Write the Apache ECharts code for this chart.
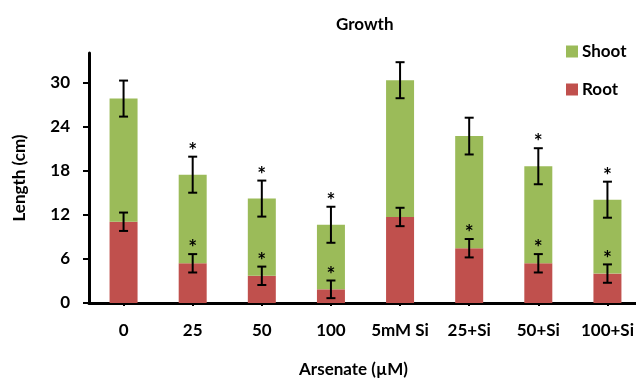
<!DOCTYPE html>
<html><head><meta charset="utf-8">
<script src="https://cdn.jsdelivr.net/npm/echarts@6/dist/echarts.min.js"></script>
<style>html,body{margin:0;padding:0;background:#fff}#c{width:636px;height:379px}</style>
</head><body><div id="c"></div>
<script>
const categories = ['0','25','50','100','5mM Si','25+Si','50+Si','100+Si'];
const rootValues = [11.05, 5.4, 3.7, 1.86, 11.7, 7.45, 5.4, 4.0];
const shootValues = [16.75, 12.05, 10.5, 8.78, 18.6, 15.25, 13.2, 10.05];
const rootErrors = [1.25, 1.25, 1.25, 1.2, 1.25, 1.25, 1.25, 1.25];
const shootErrors = [2.45, 2.45, 2.45, 2.45, 2.45, 2.5, 2.45, 2.45];
const rootStars = [false, true, true, true, false, true, true, true];
const shootStars = [false, true, true, true, false, false, true, true];
const yTicks = [0, 6, 12, 18, 24, 30];

const FONT = 'Lato';
const errData = [];
categories.forEach((c, i) => {
  errData.push([i, rootValues[i], rootErrors[i], rootStars[i] ? 1 : 0]);
  errData.push([i, rootValues[i] + shootValues[i], shootErrors[i], shootStars[i] ? 1 : 0]);
});

function renderErr(params, api) {
  const i = api.value(0), v = api.value(1), e = api.value(2), s = api.value(3);
  const top = api.coord([i, v + e]);
  const bot = api.coord([i, v - e]);
  const x = top[0], cw = 4.5;
  const children = [
    {type: 'line', shape: {x1: x, y1: top[1], x2: x, y2: bot[1]}, style: {stroke: '#000', lineWidth: 2}},
    {type: 'line', shape: {x1: x - cw, y1: top[1], x2: x + cw, y2: top[1]}, style: {stroke: '#000', lineWidth: 2}},
    {type: 'line', shape: {x1: x - cw, y1: bot[1], x2: x + cw, y2: bot[1]}, style: {stroke: '#000', lineWidth: 2}}
  ];
  if (s) {
    children.push({type: 'text', x: x, y: top[1] + 5, style: {text: '*', font: 'bold 21px ' + FONT, fill: '#000', align: 'center', verticalAlign: 'bottom'}});
  }
  return {type: 'group', children: children};
}

const chart = echarts.init(document.getElementById('c'));
chart.setOption({
  animation: false,
  textStyle: {fontFamily: FONT},
  title: {text: 'Growth', left: 331, top: 11, textStyle: {fontFamily: FONT, fontWeight: 'bold', fontSize: 17, color: '#000'}},
  legend: {
    orient: 'vertical', left: 561, top: 38, itemWidth: 12, itemHeight: 12, itemGap: 21,
    data: ['Shoot', 'Root'],
    textStyle: {fontFamily: FONT, fontWeight: 'bold', fontSize: 17, color: '#000', padding: [0, 0, 0, -1]},
    icon: 'rect'
  },
  grid: {left: 89, right: -6, top: 53, bottom: 76, containLabel: false, outerBoundsMode: 'none'},
  xAxis: {
    type: 'category', data: categories,
    name: 'Arsenate (µM)', nameLocation: 'middle', nameGap: 58,
    nameTextStyle: {fontFamily: FONT, fontWeight: 'bold', fontSize: 17, color: '#000', padding: [0, 24, 0, 0]},
    axisLine: {lineStyle: {color: '#000', width: 3}},
    axisTick: {show: true, alignWithLabel: true, interval: 0, length: 3, lineStyle: {color: '#000', width: 2}},
    axisLabel: {interval: 0, margin: 19, fontFamily: FONT, fontWeight: 'bold', fontSize: 17, color: '#000'}
  },
  yAxis: {
    type: 'value', min: 0, max: 34, interval: 6,
    name: 'Length (cm)', nameLocation: 'middle', nameGap: 61, nameRotate: 90,
    nameTextStyle: {fontFamily: FONT, fontWeight: 'bold', fontSize: 17, color: '#000'},
    axisLine: {show: true, lineStyle: {color: '#000', width: 3}},
    axisTick: {show: true, length: 6, customValues: yTicks, lineStyle: {color: '#000', width: 2}},
    axisLabel: {customValues: yTicks, margin: 19, fontFamily: FONT, fontWeight: 'bold', fontSize: 17, color: '#000'},
    splitLine: {show: false}
  },
  series: [
    {name: 'Root', type: 'bar', stack: 'len', data: rootValues, barWidth: 28, itemStyle: {color: '#C0504D'}},
    {name: 'Shoot', type: 'bar', stack: 'len', data: shootValues, barWidth: 28, itemStyle: {color: '#9BBB59'}},
    {name: 'err', type: 'custom', data: errData, renderItem: renderErr, clip: false, z: 5,
     encode: {x: 0, y: 1}}
  ]
});
</script></body></html>
